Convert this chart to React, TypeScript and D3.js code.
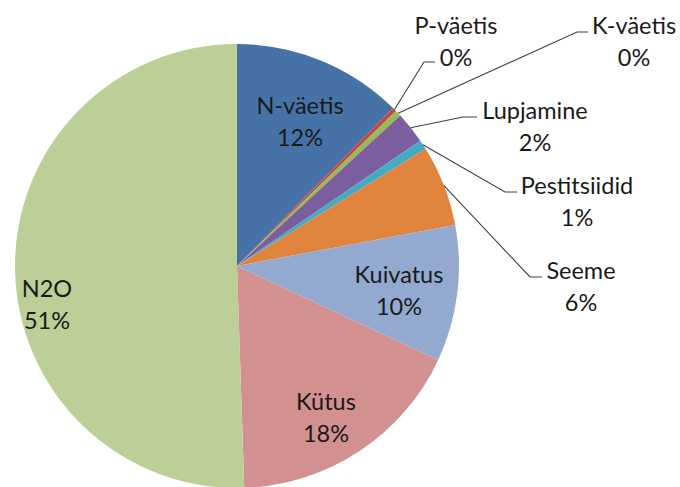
import React from "react";
import * as d3 from "d3";

const categories = ["N-väetis", "P-väetis", "K-väetis", "Lupjamine", "Pestitsiidid", "Seeme", "Kuivatus", "Kütus", "N2O"];
const values = [12.4, 0.3, 0.45, 2.3, 0.7, 5.9, 9.9, 17.53, 50.52];
const colors = ["#4672A8", "#BE4B48", "#98B954", "#7A5E9D", "#46AAC5", "#E0843D", "#93A9D0", "#D39090", "#BBCF97"];

// layout for labels (text center x, first line center y) and leader elbow/end points
type Lay = { x: number; y: number; elbow?: [number, number]; end?: [number, number] };
const labelLayout: Record<string, Lay> = {
  "N-väetis": { x: 300, y: 105 },
  "P-väetis": { x: 456, y: 25, elbow: [424, 62], end: [435, 62] },
  "K-väetis": { x: 634, y: 25, elbow: [577, 32], end: [588, 32] },
  "Lupjamine": { x: 535, y: 110, elbow: [463, 117], end: [477, 117] },
  "Pestitsiidid": { x: 577, y: 185, elbow: [505, 192], end: [517, 192] },
  "Seeme": { x: 581, y: 270, elbow: [530, 277], end: [542, 277] },
  "Kuivatus": { x: 399, y: 274 },
  "Kütus": { x: 326, y: 401 },
  "N2O": { x: 47, y: 288 },
};

const W = 680;
const H = 487;
const cx = 237;
const cy = 266;
const R = 222;
const FS = 23.5;
const LH = 32;

export default function App() {
  const total = d3.sum(values);
  const data = categories.map((c, i) => ({ name: c, value: values[i], color: colors[i] }));
  const pie = d3.pie<any>().sort(null).value((d) => d.value).startAngle(0).endAngle(2 * Math.PI);
  const arcs = pie(data);
  const arc = d3.arc<any>().innerRadius(0).outerRadius(R);
  const edge = d3.arc<any>().innerRadius(R).outerRadius(R);
  const pct = (v: number) => `${Math.round((v / total) * 100)}%`;

  return (
    <svg width={W} height={H} style={{ position: "absolute", left: 0, top: 0, background: "#fff" }}>
      <g transform={`translate(${cx},${cy})`}>
        {arcs.map((a, i) => (
          <path key={i} d={arc(a) as string} fill={a.data.color} />
        ))}
      </g>
      {arcs.map((a, i) => {
        const lay = labelLayout[a.data.name];
        if (!lay.elbow || !lay.end) return null;
        const [sx, sy] = edge.centroid(a);
        const pts: [number, number][] = [[cx + sx, cy + sy], lay.elbow, lay.end];
        return (
          <path key={"l" + i} d={d3.line()(pts) as string} fill="none" stroke="#404040" strokeWidth={1.1} />
        );
      })}
      {arcs.map((a, i) => {
        const lay = labelLayout[a.data.name];
        return (
          <g key={"t" + i} fontFamily="Lato, 'Open Sans', sans-serif" fontSize={FS} fill="#1a1a1a" textAnchor="middle">
            <text x={lay.x} y={lay.y} dominantBaseline="central">{a.data.name}</text>
            <text x={lay.x} y={lay.y + LH} dominantBaseline="central">{pct(a.data.value)}</text>
          </g>
        );
      })}
    </svg>
  );
}
